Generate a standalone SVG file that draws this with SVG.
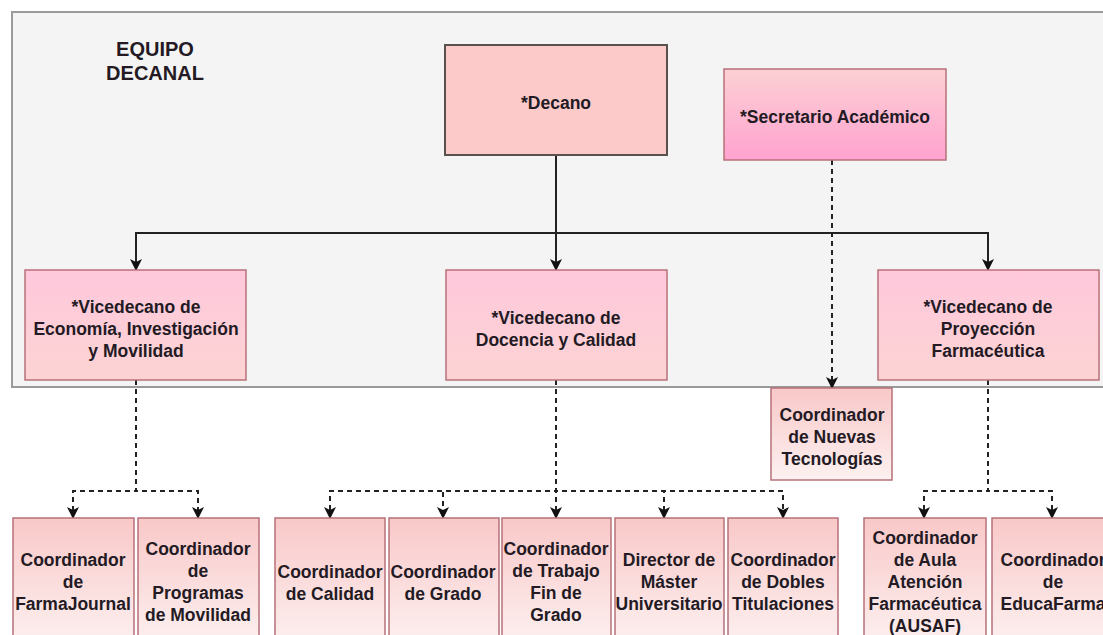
<svg xmlns="http://www.w3.org/2000/svg" width="1103" height="635" viewBox="0 0 1103 635">
<defs>
<linearGradient id="gSec" x1="0" y1="0" x2="0" y2="1"><stop offset="0" stop-color="#fcd0d4"/><stop offset="1" stop-color="#ffa3cf"/></linearGradient>
<linearGradient id="gVice" x1="0" y1="0" x2="0" y2="1"><stop offset="0" stop-color="#ffc8dc"/><stop offset="1" stop-color="#fcd3d3"/></linearGradient>
<linearGradient id="gCoord" x1="0" y1="0" x2="0" y2="1"><stop offset="0" stop-color="#f9c8c8"/><stop offset="1" stop-color="#fdf1f1"/></linearGradient>
<marker id="arr" markerWidth="14" markerHeight="14" refX="12" refY="7" orient="auto" markerUnits="userSpaceOnUse"><path d="M1,1 L13,7 L1,13 L4,7 z" fill="#111"/></marker>
</defs>
<style>
text{font-family:"Liberation Sans",Arial,sans-serif;font-weight:bold;font-size:17.5px;fill:#231a24;text-anchor:middle}
.title{font-size:20px}
.box{stroke:#b8707a;stroke-width:1.5}
.dec{fill:#fdcaca;stroke:#5a5050;stroke-width:2}
.sec{fill:url(#gSec)}
.vice{fill:url(#gVice)}
.coord{fill:url(#gCoord)}
.solid{fill:none;stroke:#222;stroke-width:2;marker-end:url(#arr)}
.dash{fill:none;stroke:#222;stroke-width:2;stroke-dasharray:5 4;marker-end:url(#arr)}
</style>
<rect x="0" y="0" width="1103" height="635" fill="#ffffff"/>
<g id="container">
<rect x="12" y="12" width="1100" height="375" fill="#f4f4f4" stroke="#9a9a9a" stroke-width="2"/>
<text class="title" x="155" y="56">EQUIPO</text>
<text class="title" x="155" y="80">DECANAL</text>
</g>
<g id="connectors">
<path class="solid" d="M556,155 V233 H136 V270"/>
<path class="solid" d="M556,155 V270"/>
<path class="solid" d="M556,155 V233 H988 V270"/>
<path class="dash" d="M832,160 V388"/>
<path class="dash" d="M136,380 V491 H73 V518"/>
<path class="dash" d="M136,380 V491 H198 V518"/>
<path class="dash" d="M556,380 V491 H330 V518"/>
<path class="dash" d="M556,380 V491 H443 V518"/>
<path class="dash" d="M556,380 V518"/>
<path class="dash" d="M556,380 V491 H664 V518"/>
<path class="dash" d="M556,380 V491 H783 V518"/>
<path class="dash" d="M988,380 V491 H924 V518"/>
<path class="dash" d="M988,380 V491 H1052 V518"/>
</g>
<g id="decano"><rect class="dec" x="445" y="45" width="222" height="110"/><text x="556" y="109">*Decano</text></g>
<g id="secretario"><rect class="box sec" x="724" y="69" width="222" height="91"/><text x="835" y="123">*Secretario Académico</text></g>
<g id="vice1"><rect class="box vice" x="25" y="270" width="221" height="110"/><text x="136" y="313">*Vicedecano de</text><text x="136" y="335">Economía, Investigación</text><text x="136" y="357">y Movilidad</text></g>
<g id="vice2"><rect class="box vice" x="446" y="270" width="221" height="110"/><text x="556" y="324">*Vicedecano de</text><text x="556" y="346">Docencia y Calidad</text></g>
<g id="vice3"><rect class="box vice" x="878" y="270" width="221" height="110"/><text x="988" y="313">*Vicedecano de</text><text x="988" y="335">Proyección</text><text x="988" y="357">Farmacéutica</text></g>
<g id="nuevas"><rect class="box coord" x="771" y="388" width="121" height="92"/><text x="832" y="421">Coordinador</text><text x="832" y="443">de Nuevas</text><text x="832" y="465">Tecnologías</text></g>
<g id="farmajournal"><rect class="box coord" x="13" y="518" width="121" height="130"/><text x="73" y="566">Coordinador</text><text x="73" y="588">de</text><text x="73" y="610">FarmaJournal</text></g>
<g id="movilidad"><rect class="box coord" x="138" y="518" width="121" height="130"/><text x="198" y="555">Coordinador</text><text x="198" y="577">de</text><text x="198" y="599">Programas</text><text x="198" y="621">de Movilidad</text></g>
<g id="calidad"><rect class="box coord" x="275" y="518" width="110" height="130"/><text x="330" y="578">Coordinador</text><text x="330" y="600">de Calidad</text></g>
<g id="grado"><rect class="box coord" x="389" y="518" width="110" height="130"/><text x="443" y="578">Coordinador</text><text x="443" y="600">de Grado</text></g>
<g id="tfg"><rect class="box coord" x="502" y="518" width="109" height="130"/><text x="556" y="555">Coordinador</text><text x="556" y="577">de Trabajo</text><text x="556" y="599">Fin de</text><text x="556" y="621">Grado</text></g>
<g id="master"><rect class="box coord" x="615" y="518" width="109" height="130"/><text x="669" y="566">Director de</text><text x="669" y="588">Máster</text><text x="669" y="610">Universitario</text></g>
<g id="dobles"><rect class="box coord" x="728" y="518" width="110" height="130"/><text x="783" y="566">Coordinador</text><text x="783" y="588">de Dobles</text><text x="783" y="610">Titulaciones</text></g>
<g id="ausaf"><rect class="box coord" x="864" y="518" width="122" height="130"/><text x="925" y="544">Coordinador</text><text x="925" y="566">de Aula</text><text x="925" y="588">Atención</text><text x="925" y="610">Farmacéutica</text><text x="925" y="632">(AUSAF)</text></g>
<g id="educafarma"><rect class="box coord" x="992" y="518" width="122" height="130"/><text x="1053" y="566">Coordinador</text><text x="1053" y="588">de</text><text x="1053" y="610">EducaFarma</text></g>
</svg>
